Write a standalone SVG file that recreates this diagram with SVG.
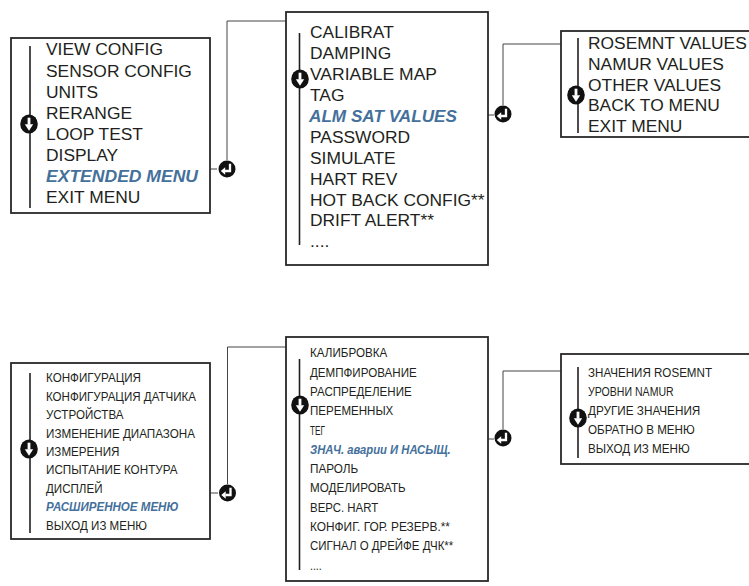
<svg xmlns="http://www.w3.org/2000/svg" xmlns:xlink="http://www.w3.org/1999/xlink" width="749" height="586" viewBox="0 0 749 586">
<style>
  .box{fill:#fff;stroke:#2a2728;stroke-width:1.8}
  .bar{stroke:#231f20;stroke-width:1.6;fill:none}
  .conn{stroke:#444;stroke-width:1;fill:none}
  .en{font-family:"Liberation Sans",Arial,sans-serif;font-size:17.4px;fill:#231f20}
  .ru{font-family:"Liberation Sans",Arial,sans-serif;font-size:13.2px;fill:#231f20}
  .hl{font-weight:bold;font-style:italic;fill:#44709b}
</style>
<defs>
  <g id="scroll">
    <ellipse cx="0" cy="0" rx="8.8" ry="9.6" fill="#111"/>
    <rect x="-1.4" y="-6.3" width="2.8" height="7" fill="#fff"/>
    <polygon points="-4.2,0.3 4.2,0.3 0,6.7" fill="#fff"/>
  </g>
  <g id="enter">
    <circle cx="0" cy="0" r="8.5" fill="#111"/>
    <path d="M3 -5.2 V2 H-2" stroke="#fff" stroke-width="2.3" fill="none"/>
    <polygon points="-6.2,2 -1.8,-1.8 -1.8,5.8" fill="#fff"/>
  </g>
</defs>

<g id="connectors">
  <path class="conn" d="M210 169 H217"/>
  <path class="conn" d="M227 160 V21 H286"/>
  <use href="#enter" x="227" y="169"/>
  <path class="conn" d="M488 115 H494"/>
  <path class="conn" d="M503 105 V44 H561"/>
  <use href="#enter" x="503" y="114"/>
  <path class="conn" d="M210 493 H218"/>
  <path class="conn" d="M227.5 484 V347 H286"/>
  <use href="#enter" x="227.5" y="493"/>
  <path class="conn" d="M488 439 H494"/>
  <path class="conn" d="M503 429 V371 H561"/>
  <use href="#enter" x="503" y="438"/>
</g>

<g id="menu-main">
  <rect class="box" x="11" y="38" width="199" height="175"/>
  <line class="bar" x1="30" y1="46" x2="30" y2="208"/>
  <use href="#scroll" x="29" y="124"/>
  <text class="en" x="46" y="55">VIEW CONFIG</text>
  <text class="en" x="46" y="76.5">SENSOR CONFIG</text>
  <text class="en" x="46" y="97.5">UNITS</text>
  <text class="en" x="46" y="118.5">RERANGE</text>
  <text class="en" x="46" y="139.5">LOOP TEST</text>
  <text class="en" x="46" y="160.5">DISPLAY</text>
  <text class="en hl" x="46" y="181.5" textLength="152" lengthAdjust="spacingAndGlyphs">EXTENDED MENU</text>
  <text class="en" x="46" y="202.5">EXIT MENU</text>
</g>

<g id="menu-extended">
  <rect class="box" x="286" y="12" width="202" height="253"/>
  <line class="bar" x1="299.5" y1="33" x2="299.5" y2="245"/>
  <use href="#scroll" x="300" y="79"/>
  <text class="en" x="310" y="38">CALIBRAT</text>
  <text class="en" x="310" y="59">DAMPING</text>
  <text class="en" x="310" y="80" textLength="127" lengthAdjust="spacingAndGlyphs">VARIABLE MAP</text>
  <text class="en" x="310" y="101">TAG</text>
  <text class="en hl" x="309" y="122" textLength="148" lengthAdjust="spacingAndGlyphs">ALM SAT VALUES</text>
  <text class="en" x="310" y="143">PASSWORD</text>
  <text class="en" x="310" y="164">SIMULATE</text>
  <text class="en" x="310" y="185">HART REV</text>
  <text class="en" x="310" y="205.5">HOT BACK CONFIG**</text>
  <text class="en" x="310" y="226">DRIFT ALERT**</text>
  <text class="en" x="310" y="247">....</text>
</g>

<g id="menu-alm-sat">
  <rect class="box" x="561" y="31" width="200" height="106"/>
  <line class="bar" x1="578" y1="38" x2="578" y2="133"/>
  <use href="#scroll" x="576" y="95"/>
  <text class="en" x="588" y="48.5">ROSEMNT VALUES</text>
  <text class="en" x="588" y="69.5">NAMUR VALUES</text>
  <text class="en" x="588" y="90.5">OTHER VALUES</text>
  <text class="en" x="588" y="111">BACK TO MENU</text>
  <text class="en" x="588" y="132">EXIT MENU</text>
</g>

<g id="menu-main-ru">
  <rect class="box" x="11" y="363" width="199" height="176"/>
  <line class="bar" x1="30" y1="373" x2="30" y2="533"/>
  <use href="#scroll" x="29" y="449"/>
  <text class="ru" x="46" y="382.3" textLength="95" lengthAdjust="spacingAndGlyphs">КОНФИГУРАЦИЯ</text>
  <text class="ru" x="46" y="400.7" textLength="150" lengthAdjust="spacingAndGlyphs">КОНФИГУРАЦИЯ ДАТЧИКА</text>
  <text class="ru" x="46" y="419.1" textLength="77.5" lengthAdjust="spacingAndGlyphs">УСТРОЙСТВА</text>
  <text class="ru" x="46" y="437.5" textLength="149" lengthAdjust="spacingAndGlyphs">ИЗМЕНЕНИЕ ДИАПАЗОНА</text>
  <text class="ru" x="46" y="455.9" textLength="73.5" lengthAdjust="spacingAndGlyphs">ИЗМЕРЕНИЯ</text>
  <text class="ru" x="46" y="474.3" textLength="131.5" lengthAdjust="spacingAndGlyphs">ИСПЫТАНИЕ КОНТУРА</text>
  <text class="ru" x="46" y="492.7" textLength="56.5" lengthAdjust="spacingAndGlyphs">ДИСПЛЕЙ</text>
  <text class="ru hl" x="46" y="511.1" textLength="132.5" lengthAdjust="spacingAndGlyphs">РАСШИРЕННОЕ МЕНЮ</text>
  <text class="ru" x="46" y="529.5" textLength="101" lengthAdjust="spacingAndGlyphs">ВЫХОД ИЗ МЕНЮ</text>
</g>

<g id="menu-extended-ru">
  <rect class="box" x="286" y="337" width="202" height="244"/>
  <line class="bar" x1="299.5" y1="359" x2="299.5" y2="570"/>
  <use href="#scroll" x="300" y="405"/>
  <text class="ru" x="310" y="357.3" textLength="77.3" lengthAdjust="spacingAndGlyphs">КАЛИБРОВКА</text>
  <text class="ru" x="310" y="376.6" textLength="106.7" lengthAdjust="spacingAndGlyphs">ДЕМПФИРОВАНИЕ</text>
  <text class="ru" x="310" y="395.9" textLength="101.7" lengthAdjust="spacingAndGlyphs">РАСПРЕДЕЛЕНИЕ</text>
  <text class="ru" x="310" y="415.2" textLength="83.3" lengthAdjust="spacingAndGlyphs">ПЕРЕМЕННЫХ</text>
  <text class="ru" x="310" y="434.5" textLength="15" lengthAdjust="spacingAndGlyphs">ТЕГ</text>
  <text class="ru hl" x="310" y="453.8" textLength="140.7" lengthAdjust="spacingAndGlyphs">ЗНАЧ. аварии И НАСЫЩ.</text>
  <text class="ru" x="310" y="473.1" textLength="48.3" lengthAdjust="spacingAndGlyphs">ПАРОЛЬ</text>
  <text class="ru" x="310" y="492.4" textLength="95.7" lengthAdjust="spacingAndGlyphs">МОДЕЛИРОВАТЬ</text>
  <text class="ru" x="310" y="511.7" textLength="68.3" lengthAdjust="spacingAndGlyphs">ВЕРС. HART</text>
  <text class="ru" x="310" y="531" textLength="140" lengthAdjust="spacingAndGlyphs">КОНФИГ. ГОР. РЕЗЕРВ.**</text>
  <text class="ru" x="310" y="550.3" textLength="143.3" lengthAdjust="spacingAndGlyphs">СИГНАЛ О ДРЕЙФЕ ДЧК**</text>
  <text class="ru" x="310" y="569.6" textLength="11.7" lengthAdjust="spacingAndGlyphs">....</text>
</g>

<g id="menu-alm-sat-ru">
  <rect class="box" x="561" y="354" width="200" height="110"/>
  <line class="bar" x1="578" y1="367" x2="578" y2="458"/>
  <use href="#scroll" x="578" y="418"/>
  <text class="ru" x="588" y="376.7" textLength="124" lengthAdjust="spacingAndGlyphs">ЗНАЧЕНИЯ ROSEMNT</text>
  <text class="ru" x="588" y="395.7" textLength="85.7" lengthAdjust="spacingAndGlyphs">УРОВНИ NAMUR</text>
  <text class="ru" x="588" y="415" textLength="112.3" lengthAdjust="spacingAndGlyphs">ДРУГИЕ ЗНАЧЕНИЯ</text>
  <text class="ru" x="588" y="434" textLength="106.7" lengthAdjust="spacingAndGlyphs">ОБРАТНО В МЕНЮ</text>
  <text class="ru" x="588" y="452.7" textLength="101.7" lengthAdjust="spacingAndGlyphs">ВЫХОД ИЗ МЕНЮ</text>
</g>
</svg>
